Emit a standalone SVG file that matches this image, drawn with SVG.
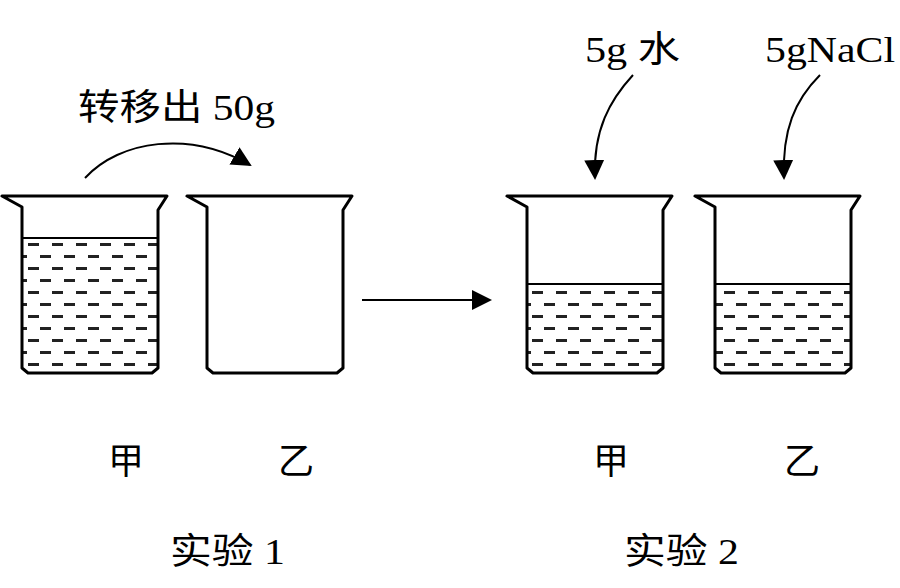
<svg xmlns="http://www.w3.org/2000/svg" width="900" height="588" viewBox="0 0 900 588">
<style>
.b{fill:none;stroke:#000;stroke-width:3;stroke-linejoin:round}
.l{fill:none;stroke:#000;stroke-width:2}
.t{font-family:"Liberation Serif","Noto Sans CJK SC",serif;font-size:36px;fill:#000}
.c{font-family:"Noto Sans CJK SC",sans-serif;font-size:36px;fill:#000}
</style>
<defs>
<pattern id="dash" width="24" height="24" patternUnits="userSpaceOnUse" x="22" y="238">
<rect x="6" y="5" width="11" height="3" fill="#222"/>
<rect x="-6" y="17" width="11" height="3" fill="#222"/>
<rect x="18" y="17" width="11" height="3" fill="#222"/>
</pattern>
<marker id="ah2" viewBox="0 0 10 10" refX="9" refY="5" markerWidth="20" markerHeight="20" orient="auto" markerUnits="userSpaceOnUse">
<path d="M0,0 L10,5 L0,10 z" fill="#000"/>
</marker>
<path id="beaker" class="b" d="M0,0 L165,0 L156,14 L156,172 L150,177 L26,177 L20,172 L20,11 Z"/>
</defs>
<g id="jia1">
<rect x="21" y="238" width="136" height="134" fill="url(#dash)"/>
<line class="l" x1="21" y1="238" x2="157" y2="238"/>
<use href="#beaker" x="2" y="196"/>
</g>
<g id="yi1"><use href="#beaker" x="187" y="196"/></g>
<g id="jia2">
<rect x="527" y="284" width="136" height="88" fill="url(#dash)"/>
<line class="l" x1="527" y1="284" x2="663" y2="284"/>
<use href="#beaker" x="507" y="196"/>
</g>
<g id="yi2">
<rect x="715" y="284" width="135" height="88" fill="url(#dash)"/>
<line class="l" x1="715" y1="284" x2="850" y2="284"/>
<use href="#beaker" x="695" y="196"/>
</g>
<g id="connectors">
<path class="l" d="M85,178 C120,140 190,130 250,165" marker-end="url(#ah2)"/>
<line class="l" x1="362" y1="300" x2="490" y2="300" marker-end="url(#ah2)"/>
<path class="l" d="M633,75 C610,100 593,130 595,178" marker-end="url(#ah2)"/>
<path class="l" d="M820,75 C795,100 782,130 784,178" marker-end="url(#ah2)"/>
</g>
<g id="labels">
<text class="t" x="78" y="120" textLength="197" lengthAdjust="spacingAndGlyphs">转移出 50g</text>
<text class="t" x="585" y="62" textLength="95" lengthAdjust="spacingAndGlyphs">5g 水</text>
<text class="t" x="765" y="62" textLength="130" lengthAdjust="spacingAndGlyphs">5gNaCl</text>
<text class="c" x="108" y="474">甲</text>
<text class="c" x="278" y="474">乙</text>
<text class="c" x="593" y="474">甲</text>
<text class="c" x="784" y="474">乙</text>
<text class="t" x="170" y="564" textLength="115" lengthAdjust="spacingAndGlyphs">实验 1</text>
<text class="t" x="624" y="564" textLength="115" lengthAdjust="spacingAndGlyphs">实验 2</text>
</g>
</svg>
